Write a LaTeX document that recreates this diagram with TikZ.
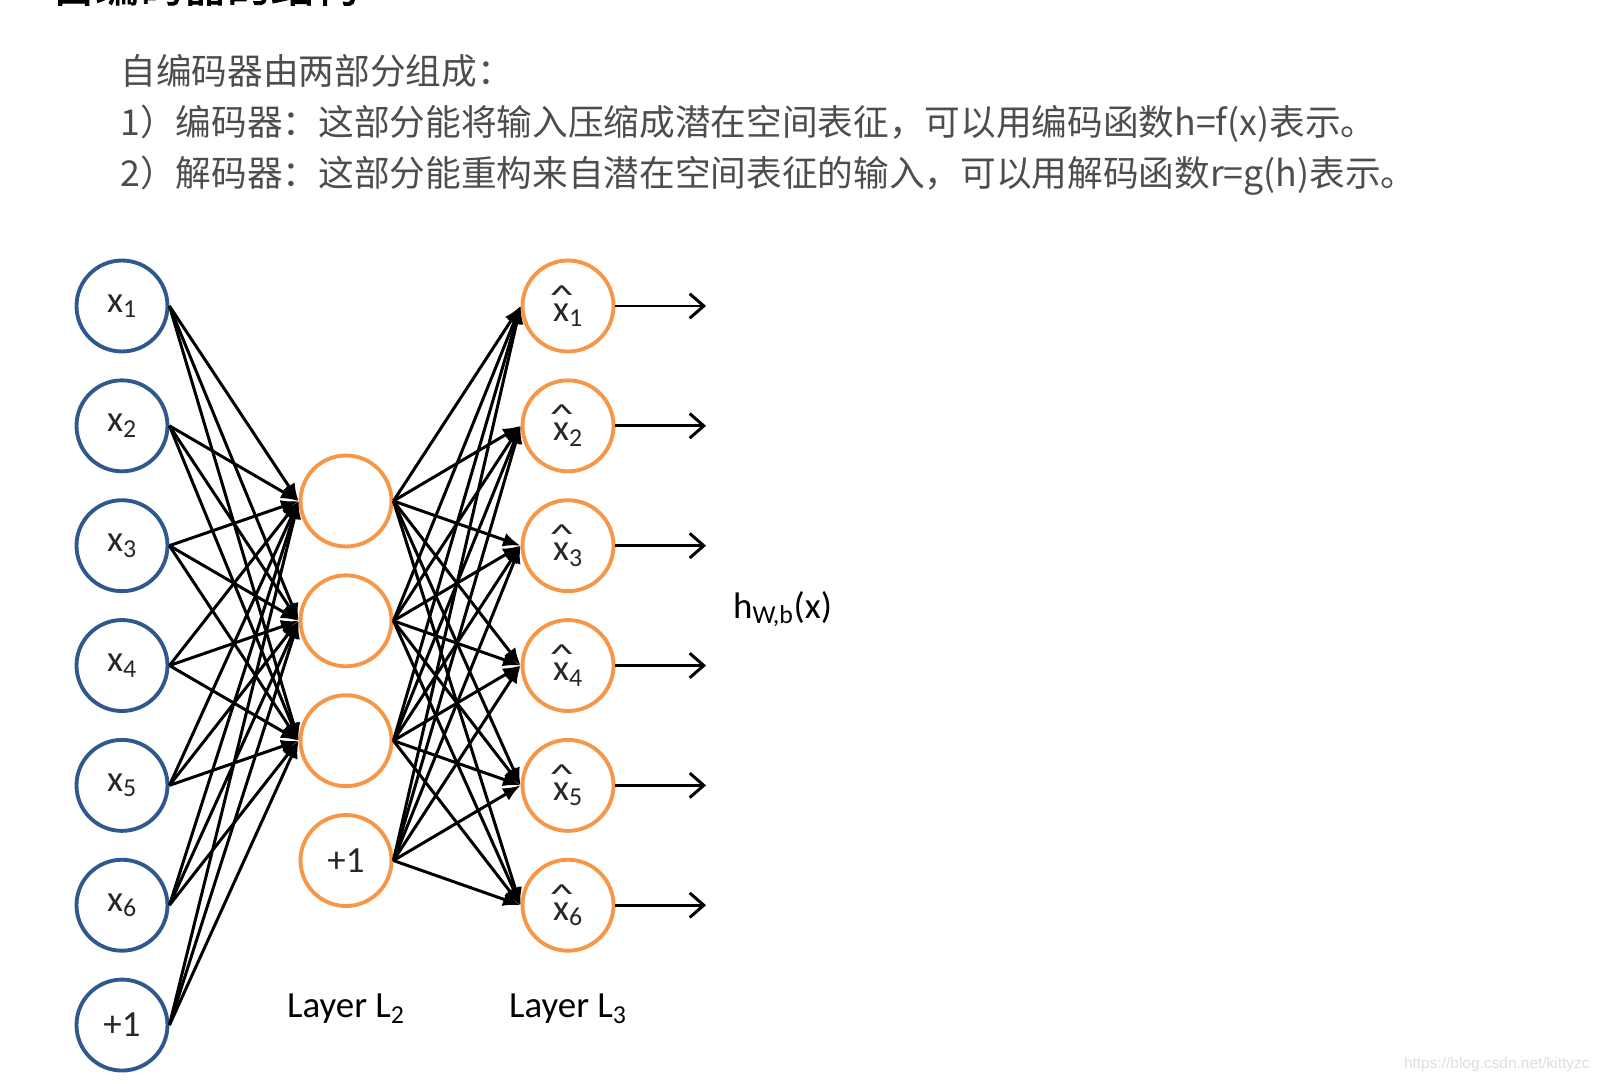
\documentclass[tikz,border=0pt]{standalone}
\usepackage{fontspec}
\usepackage{graphicx}
\setmainfont{Carlito}
\newfontfamily\cjk{Noto Sans CJK SC}
\newfontfamily\cjkbold[FakeBold=2]{Noto Sans CJK SC}
\newfontfamily\wmfont{Liberation Sans}
\usetikzlibrary{arrows.meta,positioning}
\definecolor{inblue}{RGB}{47,89,140}
\definecolor{hidorange}{RGB}{247,150,70}
\definecolor{txtgray}{RGB}{77,77,77}
\definecolor{wmgray}{RGB}{222,222,222}
\newcommand{\hatx}[1]{\rlap{\kern-0.1em\raisebox{0.46em}{\scalebox{1.35}[0.75]{\textasciicircum}}}x\textsubscript{#1}}

\begin{document}
\begin{tikzpicture}[
  x=0.02cm, y=-0.02cm,
  font=\fontsize{21}{25}\selectfont, node distance=0.5cm,
  inp/.style={circle, draw=inblue, line width=2.2pt, minimum size=1.82cm, inner sep=0pt, text=black!85},
  hid/.style={inp, draw=hidorange},
  link/.style={-{Latex[length=10pt,width=8pt]}, line width=1.7pt},
  outlink/.style={-{Straight Barb[length=8pt,width=14pt]}, line width=1.7pt},
  para/.style={anchor=west, inner sep=0pt, font=\cjk\fontsize{20.3}{24}\selectfont, text=txtgray}]
\useasboundingbox (0,0) rectangle (1598,1084);
\clip (0,0) rectangle (1598,1084);
% text
\node[anchor=base west, inner sep=0pt, font=\cjkbold\fontsize{25}{30}\selectfont] (head) at (51,2) {自编码器的结构};
\node[para] (t0) at (120,71) {自编码器由两部分组成：};
\node[para] (t1) at (120,124) {1）编码器：这部分能将输入压缩成潜在空间表征，可以用编码函数h=f(x)表示。};
\node[para] (t2) at (120,176) {2）解码器：这部分能重构来自潜在空间表征的输入，可以用解码函数r=g(h)表示。};
% input layer
\node[inp] (i1) at (122,306) {x\textsubscript{1}};
\node[inp, below=of i1] (i2) {x\textsubscript{2}};
\node[inp, below=of i2] (i3) {x\textsubscript{3}};
\node[inp, below=of i3] (i4) {x\textsubscript{4}};
\node[inp, below=of i4] (i5) {x\textsubscript{5}};
\node[inp, below=of i5] (i6) {x\textsubscript{6}};
\node[inp, below=of i6] (i7) {+1};
% layer L2
\node[hid] (h1) at (346,501) {};
\node[hid, below=of h1] (h2) {};
\node[hid, below=of h2] (h3) {};
\node[hid, below=of h3] (h4) {+1};
\node (l2) at (346,1009) {Layer L\textsubscript{2}};
% layer L3
\node[hid] (o1) at (568,306) {\hatx{1}};
\node[hid, below=of o1] (o2) {\hatx{2}};
\node[hid, below=of o2] (o3) {\hatx{3}};
\node[hid, below=of o3] (o4) {\hatx{4}};
\node[hid, below=of o4] (o5) {\hatx{5}};
\node[hid, below=of o5] (o6) {\hatx{6}};
\node (l3) at (568,1009) {Layer L\textsubscript{3}};
\node[anchor=west] (hwb) at (727,609) {h\textsubscript{W,b}(x)};
% links
\foreach \a in {1,...,7} \foreach \b in {1,2,3} \draw[link] (i\a.east) -- (h\b.west);
\foreach \a in {1,...,4} \foreach \b in {1,...,6} \draw[link] (h\a.east) -- (o\b.west);
\coordinate (tip) at (706,0);
\foreach \b in {1,...,6} \draw[outlink] (o\b.east) -- (o\b.east -| tip);
% watermark
\node[anchor=east, inner sep=0pt, font=\wmfont\fontsize{8.8}{10}\selectfont, text=wmgray] (wm) at (1590,1064) {https://blog.csdn.net/kittyzc};
\end{tikzpicture}
\end{document}
